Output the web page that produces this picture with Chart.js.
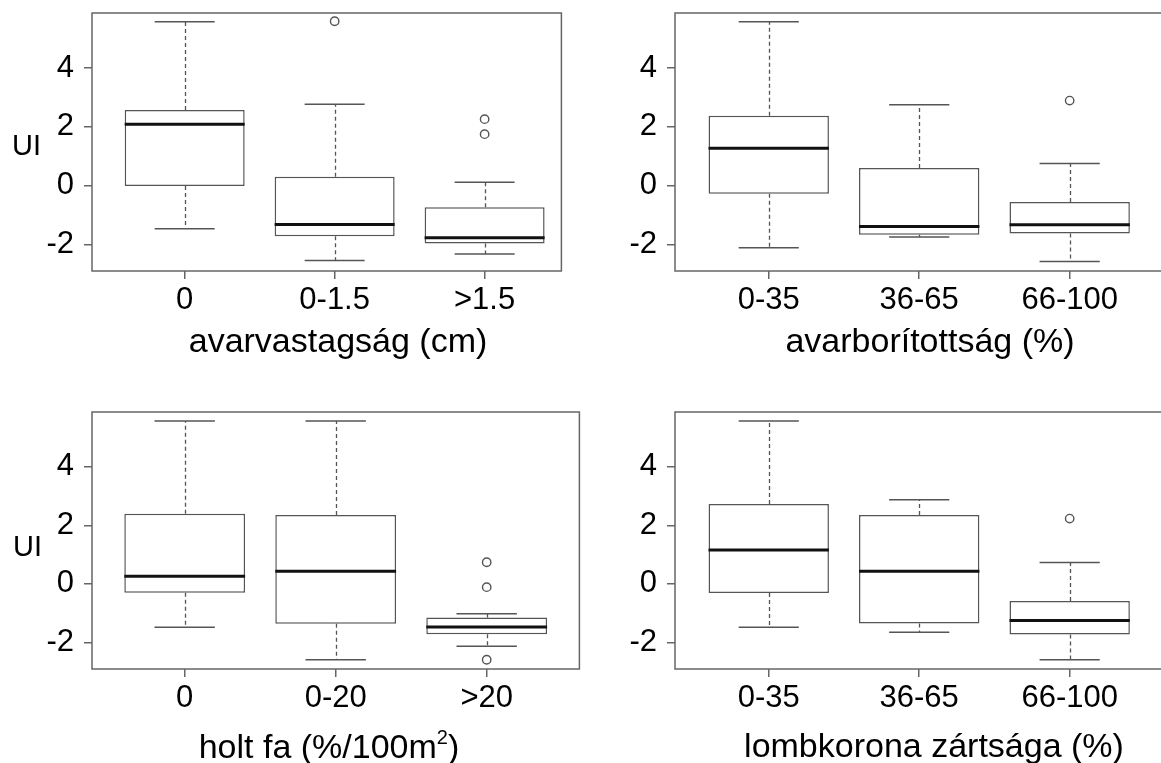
<!DOCTYPE html>
<html><head><meta charset="utf-8">
<script src="https://cdn.jsdelivr.net/npm/chart.js@4/dist/chart.umd.min.js"></script>
<style>
html,body{margin:0;padding:0;background:#fff;width:1161px;height:763px;overflow:hidden;position:relative;}
canvas{position:absolute;}
.lbl{position:absolute;white-space:nowrap;color:#000;font-family:"Liberation Sans",Arial,sans-serif;}
.xt{font-size:34px;line-height:34px;transform:translateX(-50%);}
.yt{font-size:29px;line-height:29px;}
sup{font-size:20px;line-height:0;position:relative;top:-2px;}
</style></head><body>
<canvas id="c1"></canvas><canvas id="c2"></canvas><canvas id="c3"></canvas><canvas id="c4"></canvas>
<div class="lbl yt" style="left:12px;top:131px;">UI</div>
<div class="lbl yt" style="left:13px;top:532px;">UI</div>
<div class="lbl xt" style="left:338px;top:323px;">avarvastagság (cm)</div>
<div class="lbl xt" style="left:930px;top:323px;">avarborítottság (%)</div>
<div class="lbl xt" style="left:329px;top:729px;">holt fa (%/100m<sup>2</sup>)</div>
<div class="lbl xt" style="left:934px;top:728px;">lombkorona zártsága (%)</div>
<script>
// ---- data ----
const yTickValues = [-2, 0, 2, 4];

const depthCategories = ['0', '0-1.5', '>1.5'];
const depthLow    = [-1.47, -2.55, -2.33];
const depthQ1     = [-0.01, -1.72, -1.97];
const depthMedian = [2.09, -1.32, -1.77];
const depthQ3     = [2.57, 0.30, -0.74];
const depthHigh   = [5.57, 2.77, 0.11];
const depthOutliers = [[], [5.59], [2.26, 1.75]];

const coverCategories = ['0-35', '36-65', '66-100'];
const coverLow    = [-2.11, -1.75, -2.58];
const coverQ1     = [-0.28, -1.67, -1.63];
const coverMedian = [1.27, -1.39, -1.33];
const coverQ3     = [2.375, 0.60, -0.56];
const coverHigh   = [5.57, 2.75, 0.75];
const coverOutliers = [[], [], [2.89]];

const deadwoodCategories = ['0', '0-20', '>20'];
const deadwoodLow    = [-1.48, -2.59, -2.13];
const deadwoodQ1     = [-0.30, -1.36, -1.72];
const deadwoodMedian = [0.26, 0.43, -1.47];
const deadwoodQ3     = [2.40, 2.35, -1.15];
const deadwoodHigh   = [5.56, 5.56, -1.02];
const deadwoodOutliers = [[], [], [0.74, -0.11, -2.59]];

const canopyCategories = ['0-35', '36-65', '66-100'];
const canopyLow    = [-1.48, -1.65, -2.59];
const canopyQ1     = [-0.31, -1.35, -1.73];
const canopyMedian = [1.16, 0.43, -1.25];
const canopyQ3     = [2.73, 2.35, -0.58];
const canopyHigh   = [5.56, 2.875, 0.73];
const canopyOutliers = [[], [], [2.23]];

// ---- layout ----
const FONT = '"Liberation Sans", Arial, sans-serif';
const YW = 92, XH = 80, PT = 10, PR = 4;

const panels = [
  {id:'c1', frame:{l:92, t:13, r:563, b:271}, xMin:0.382, xMax:3.512,
   cats:depthCategories, lo:depthLow, q1:depthQ1, med:depthMedian, q3:depthQ3, hi:depthHigh, out:depthOutliers},
  {id:'c2', frame:{l:675, t:13, r:1165, b:271}, xMin:0.377, xMax:3.623,
   cats:coverCategories, lo:coverLow, q1:coverQ1, med:coverMedian, q3:coverQ3, hi:coverHigh, out:coverOutliers},
  {id:'c3', frame:{l:92, t:412, r:581, b:669}, xMin:0.386, xMax:3.614,
   cats:deadwoodCategories, lo:deadwoodLow, q1:deadwoodQ1, med:deadwoodMedian, q3:deadwoodQ3, hi:deadwoodHigh, out:deadwoodOutliers},
  {id:'c4', frame:{l:675, t:412, r:1165, b:669}, xMin:0.377, xMax:3.623,
   cats:canopyCategories, lo:canopyLow, q1:canopyQ1, med:canopyMedian, q3:canopyQ3, hi:canopyHigh, out:canopyOutliers}
];

const boxPlugin = {
  id: 'boxWhiskers',
  afterDatasetsDraw(chart, args, opts) {
    const p = opts.panel;
    if (!p) return;
    const {ctx, chartArea} = chart;
    const xs = chart.scales.x, ys = chart.scales.y;
    const line = (x1, y1, x2, y2) => { ctx.beginPath(); ctx.moveTo(x1, y1); ctx.lineTo(x2, y2); ctx.stroke(); };
    ctx.save();
    for (let i = 0; i < p.cats.length; i++) {
      const v = i + 1;
      const cx = Math.round(xs.getPixelForValue(v)) + 0.5;
      const capL = xs.getPixelForValue(v - 0.2), capR = xs.getPixelForValue(v + 0.2);
      const boxL = xs.getPixelForValue(v - 0.4), boxR = xs.getPixelForValue(v + 0.4);
      ctx.strokeStyle = '#555';
      ctx.lineWidth = 1.3;
      ctx.setLineDash([4, 3]);
      line(cx, ys.getPixelForValue(p.q3[i]), cx, ys.getPixelForValue(p.hi[i]));
      line(cx, ys.getPixelForValue(p.q1[i]), cx, ys.getPixelForValue(p.lo[i]));
      ctx.setLineDash([]);
      ctx.lineWidth = 1.5;
      line(capL, ys.getPixelForValue(p.hi[i]), capR, ys.getPixelForValue(p.hi[i]));
      line(capL, ys.getPixelForValue(p.lo[i]), capR, ys.getPixelForValue(p.lo[i]));
      ctx.strokeStyle = '#111';
      ctx.lineWidth = 3;
      line(boxL, ys.getPixelForValue(p.med[i]), boxR, ys.getPixelForValue(p.med[i]));
    }
    ctx.strokeStyle = '#666';
    ctx.lineWidth = 1.5;
    ctx.strokeRect(chartArea.left, chartArea.top, chartArea.right - chartArea.left, chartArea.bottom - chartArea.top);
    ctx.restore();
  }
};

panels.forEach(p => {
  const f = p.frame;
  const cv = document.getElementById(p.id);
  const w = (f.r - f.l) + YW + PR, h = (f.b - f.t) + PT + XH;
  cv.width = w; cv.height = h;
  cv.style.left = (f.l - YW) + 'px'; cv.style.top = (f.t - PT) + 'px';
  cv.style.width = w + 'px'; cv.style.height = h + 'px';
  const outPts = [];
  p.out.forEach((arr, i) => arr.forEach(val => outPts.push({x: i + 1, y: val})));
  new Chart(cv, {
    type: 'bar',
    data: {
      datasets: [
        {type: 'bar', data: p.cats.map((c, i) => ({x: i + 1, y: [p.q1[i], p.q3[i]]})),
         backgroundColor: '#fff', borderColor: '#555', borderWidth: 1.5, borderSkipped: false,
         barPercentage: 1, categoryPercentage: 0.8},
        {type: 'scatter', data: outPts, showLine: false, pointStyle: 'circle', pointRadius: 4.2,
         borderColor: '#555', borderWidth: 1.4, backgroundColor: 'rgba(0,0,0,0)'}
      ]
    },
    options: {
      responsive: false, animation: false, devicePixelRatio: 1,
      layout: {padding: {top: PT, right: PR, left: 0, bottom: 0}},
      plugins: {legend: {display: false}, tooltip: {enabled: false}, boxWhiskers: {panel: p}},
      scales: {
        x: {type: 'linear', min: p.xMin, max: p.xMax, offset: false,
            afterBuildTicks: s => { s.ticks = [1, 2, 3].map(v => ({value: v})); },
            afterFit: s => { s.height = XH; s.paddingLeft = 0; s.paddingRight = 0; },
            grid: {drawOnChartArea: false, drawTicks: true, tickLength: 8, color: '#666', lineWidth: 1.5, offset: false},
            border: {display: false},
            ticks: {callback: v => p.cats[v - 1], font: {family: FONT, size: 31}, color: '#000',
                    padding: 3, maxRotation: 0, autoSkip: false}},
        y: {type: 'linear', min: -2.905, max: 5.87,
            afterBuildTicks: s => { s.ticks = yTickValues.map(v => ({value: v})); },
            afterFit: s => { s.width = YW; s.paddingTop = 0; s.paddingBottom = 0; },
            grid: {drawOnChartArea: false, drawTicks: true, tickLength: 8, color: '#666', lineWidth: 1.5},
            border: {display: false},
            ticks: {callback: v => String(v), font: {family: FONT, size: 31}, color: '#000', padding: 10}}
      }
    },
    plugins: [boxPlugin]
  });
});
</script>
</body></html>
